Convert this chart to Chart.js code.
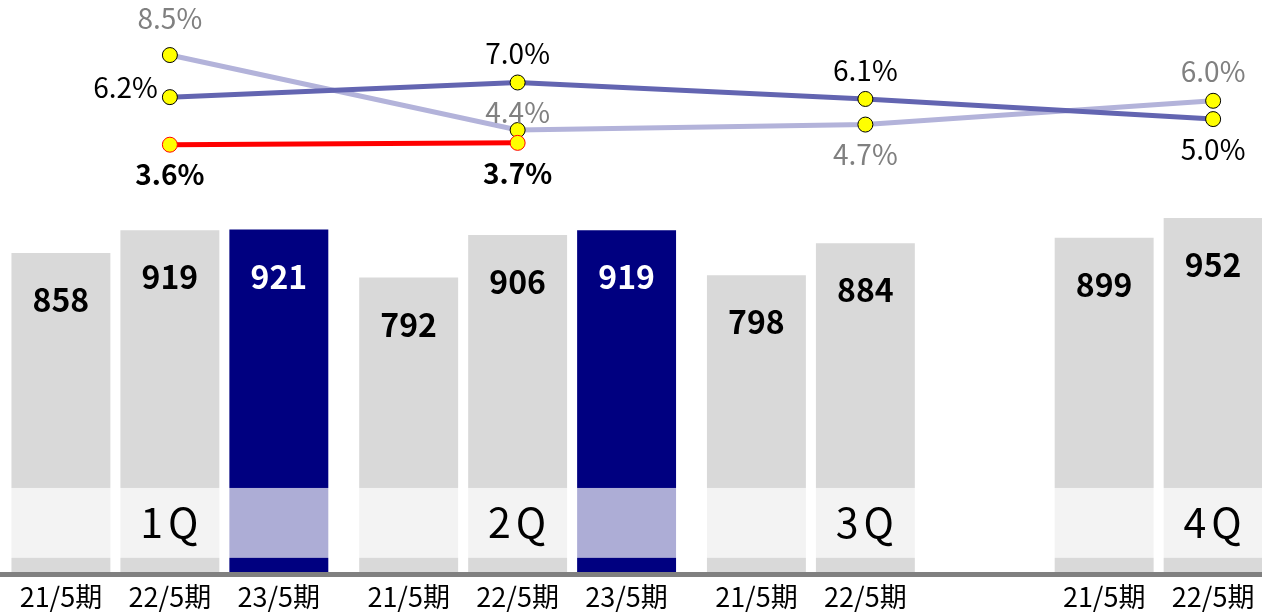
<!DOCTYPE html>
<html lang="ja">
<head>
<meta charset="UTF-8">
<title>四半期別 売上高と伸び率</title>
<script src="https://cdn.jsdelivr.net/npm/chart.js"></script>
<style>
    * {
        margin: 0;
        padding: 0;
        box-sizing: border-box;
    }
    html, body {
        width: 1262px;
        height: 613px;
        overflow: hidden;
        background: #fff;
    }
    /* le 4Q déborde à droite : le canvas est plus large que la fenêtre */
    .chart-container {
        position: absolute;
        left: -4px;
        top: 0;
        width: 1391px;
        height: 613px;
    }
</style>
</head>
<body>

<div class="chart-container">
    <canvas id="sales-chart" width="1391" height="613"></canvas>
</div>

<script>
const quarters = ['1Q', '2Q', '3Q', '4Q'];
const periods = ['21/5期', '22/5期', '23/5期'];

const sales21 = [858, 792, 798, 899];
const sales22 = [919, 906, 884, 952];
const sales23 = [921, 919, null, null];

const growth21 = [8.5, 4.4, 4.7, 6.0];
const growth22 = [6.2, 7.0, 6.1, 5.0];
const growth23 = [3.6, 3.7, null, null];

const FONT = '"Noto Sans CJK JP", "DejaVu Sans", sans-serif';
const BAND = [38, 226];   // bande claire derrière les libellés 1Q..4Q (unités de l'axe y)

const overlay = {
    id: 'overlay',
    afterDatasetsDraw(chart) {
        const { ctx, chartArea, scales } = chart;
        const y = scales.y;
        ctx.save();

        // bande translucide
        const bTop = y.getPixelForValue(BAND[1]);
        const bBot = y.getPixelForValue(BAND[0]);
        ctx.fillStyle = 'rgba(255,255,255,0.68)';
        ctx.fillRect(chartArea.left, bTop, chartArea.width, bBot - bTop);

        // libellés des trimestres
        ctx.fillStyle = '#000';
        ctx.font = '41px ' + FONT;
        ctx.textAlign = 'center';
        ctx.textBaseline = 'middle';
        ctx.letterSpacing = '5px';
        quarters.forEach((q, i) => {
            ctx.fillText(q, scales.x.getPixelForValue(i) + 2, (bTop + bBot) / 2);
        });
        ctx.letterSpacing = '0px';

        // ligne de base
        const base = y.getPixelForValue(0);
        ctx.fillStyle = '#808080';
        ctx.fillRect(0, base, chart.width, 5);

        chart.data.datasets.forEach((ds, di) => {
            const meta = chart.getDatasetMeta(di);
            meta.data.forEach((el, i) => {
                const v = ds.data[i];
                if (v === null || v === undefined) return;
                if (ds.type === 'line') {
                    const place = ds.labelPlace[i];
                    ctx.fillStyle = ds.labelColor;
                    ctx.font = (ds.labelBold ? 'bold 28px ' : '28px ') + FONT;
                    ctx.textBaseline = 'middle';
                    let lx = el.x, ly = el.y;
                    ctx.textAlign = 'center';
                    if (place === 'left') { ctx.textAlign = 'right'; lx -= 12; ly -= 10; }
                    else if (place === 'top') ly -= 29;
                    else if (place === 'topFar') ly -= 37;
                    else if (place === 'topNear') ly -= 18;
                    else if (place === 'bottom') ly += 30;
                    ctx.fillText(v.toFixed(1) + '%', lx, ly);
                } else {
                    // valeur dans la barre
                    ctx.fillStyle = ds.labelColor;
                    ctx.font = 'bold 32px ' + FONT;
                    ctx.textAlign = 'center';
                    ctx.textBaseline = 'middle';
                    ctx.fillText(v, el.x, el.y + 47);
                    // période sous l'axe
                    ctx.fillStyle = '#000';
                    ctx.font = '27px ' + FONT;
                    ctx.fillText(ds.label, el.x, base + 25);
                }
            });
        });
        ctx.restore();
    }
};

const lineStyle = {
    type: 'line',
    yAxisID: 'y2',
    borderWidth: 5,
    pointRadius: 7.5,
    pointHoverRadius: 7.5,
    pointBorderWidth: 1,
    pointBackgroundColor: '#ffff00',
    pointBorderColor: '#000',
    tension: 0,
    fill: false
};

const barStyle = {
    yAxisID: 'y',
    order: 10,
    categoryPercentage: 0.94,
    barPercentage: 0.908
};

const chartConfig = {
    type: 'bar',
    data: {
        labels: quarters,
        datasets: [
            { ...lineStyle, label: periods[2] + ' 伸び率', data: growth23, order: 1,
              borderColor: '#ff0000', pointBorderColor: '#ff0000',
              labelColor: '#000', labelBold: true, labelPlace: ['bottom', 'bottom'] },
            { ...lineStyle, label: periods[1] + ' 伸び率', data: growth22, order: 2,
              borderColor: '#6365b1',
              labelColor: '#000', labelBold: false, labelPlace: ['left', 'top', 'top', 'bottom'] },
            { ...lineStyle, label: periods[0] + ' 伸び率', data: growth21, order: 3,
              borderColor: '#b3b3da',
              labelColor: '#808080', labelBold: false, labelPlace: ['topFar', 'topNear', 'bottom', 'top'] },
            { ...barStyle, label: periods[0], data: sales21, backgroundColor: '#d9d9d9', labelColor: '#000' },
            { ...barStyle, label: periods[1], data: sales22, backgroundColor: '#d9d9d9', labelColor: '#000' },
            { ...barStyle, label: periods[2], data: sales23, backgroundColor: '#000080', labelColor: '#fff' }
        ]
    },
    options: {
        responsive: false,
        animation: false,
        layout: { autoPadding: false, padding: { top: 0, bottom: 41, left: 0, right: 0 } },
        plugins: {
            legend: { display: false },
            tooltip: { enabled: false }
        },
        scales: {
            x: { display: false },
            y: { display: false, min: 0, max: 1538 },
            y2: { display: false, min: -19.76, max: 11.51 }
        }
    },
    plugins: [overlay]
};

const ctx = document.getElementById('sales-chart').getContext('2d');
new Chart(ctx, chartConfig);
</script>

</body>
</html>
